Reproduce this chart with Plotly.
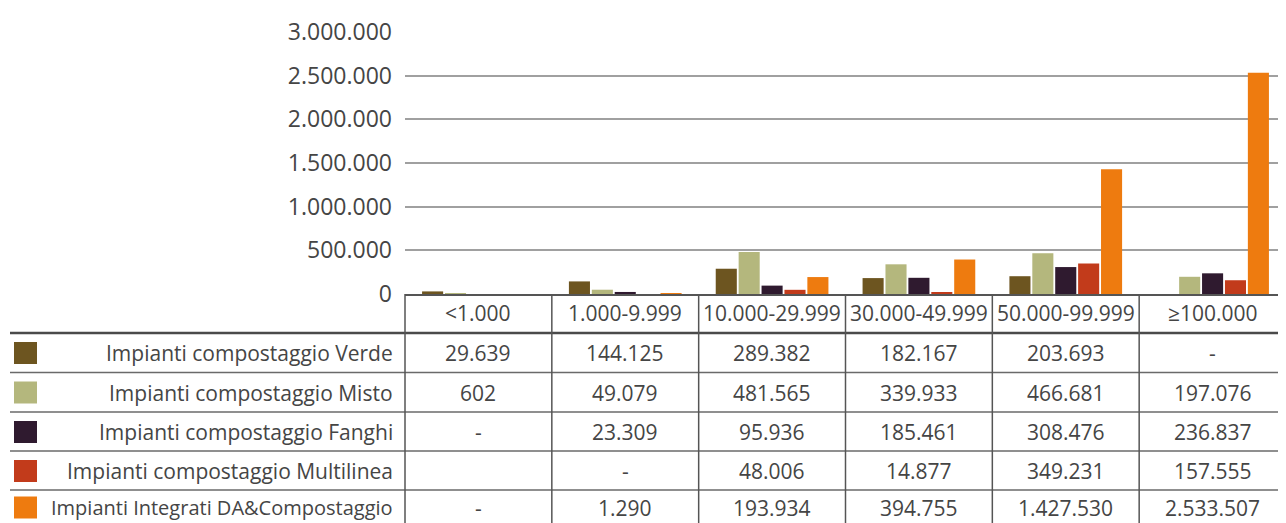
import plotly.graph_objects as go

# classi di capacità degli impianti
categorie = ['<1.000', '1.000-9.999', '10.000-29.999', '30.000-49.999', '50.000-99.999', '≥100.000']

# serie (None = dato assente)
verde = [29639, 144125, 289382, 182167, 203693, None]
misto = [602, 49079, 481565, 339933, 466681, 197076]
fanghi = [None, 23309, 95936, 185461, 308476, 236837]
multilinea = [None, None, 48006, 14877, 349231, 157555]
integrati = [None, 1290, 193934, 394755, 1427530, 2533507]

nomi = ['Impianti compostaggio Verde', 'Impianti compostaggio Misto', 'Impianti compostaggio Fanghi',
        'Impianti compostaggio Multilinea', 'Impianti Integrati DA&Compostaggio']
colori = ['#6d5520', '#b4b77d', '#2f1a2f', '#c23b1b', '#ee7b0f']
celle_vuote = [(3, 0)]  # (serie, categoria) lasciate in bianco nella tabella

serie = [verde, misto, fanghi, multilinea, integrati]

# la pagina ha un margine di 8px: coordinate espresse in pixel della figura
OFF = 8
W, H = 1286 - OFF, 523 - OFF
ML, MR, MT, MB = 405 - OFF, 0, 32 - OFF, 523 - 294
pw, ph = W - ML - MR, H - MT - MB
FONT = 'Open Sans'
GRIGIO = '#454545'


def py(pix):
    # pixel verticale (pagina) -> coordinata paper
    return (294 - pix) / ph


def px_(pix):
    return (pix - 405) / pw


def fmt(v):
    return '-' if v is None else f'{v:,}'.replace(',', '.')


fig = go.Figure()
for nome, col, vals in zip(nomi, colori, serie):
    fig.add_trace(go.Bar(x=categorie, y=[0 if v is None else v for v in vals], name=nome,
                         marker=dict(color=col, line=dict(width=0))))

shapes = []
annotations = []

# righe della tabella
linee_y = [333, 372.5, 412, 451, 490]
header_c = 313
righe_c = [353, 392.5, 432, 471, 507.5]
font_tab = dict(family=FONT, size=21, color=GRIGIO)

# intestazione
for c in categorie:
    annotations.append(dict(x=c, xref='x', y=py(header_c), yref='paper', text=c, showarrow=False,
                            yanchor='middle', font=font_tab))

for i, (nome, col, vals) in enumerate(zip(nomi, colori, serie)):
    yc = righe_c[i]
    f_lab = dict(font_tab, size=20) if len(nome) > 32 else font_tab
    annotations.append(dict(x=px_(395), xref='paper', y=py(yc), yref='paper', text=nome,
                            xanchor='right', yanchor='middle', showarrow=False, font=f_lab))
    shapes.append(dict(type='rect', xref='paper', yref='paper', x0=px_(14), x1=px_(37),
                       y0=py(yc + 11), y1=py(yc - 11), fillcolor=col, line=dict(width=0)))
    for j, c in enumerate(categorie):
        testo = '' if (i, j) in celle_vuote else fmt(vals[j])
        annotations.append(dict(x=c, xref='x', y=py(yc), yref='paper', text=testo, showarrow=False,
                                yanchor='middle', font=font_tab))

# linee orizzontali
shapes.append(dict(type='line', xref='paper', yref='paper', x0=px_(10), x1=1, y0=py(linee_y[0]),
                   y1=py(linee_y[0]), line=dict(color='#4a4a4a', width=2.5)))
for yl in linee_y[1:]:
    shapes.append(dict(type='line', xref='paper', yref='paper', x0=px_(10), x1=1, y0=py(yl), y1=py(yl),
                       line=dict(color='#6a6a6a', width=1.5)))

# linee verticali
shapes.append(dict(type='line', xref='paper', yref='paper', x0=0, x1=0, y0=0, y1=py(530),
                   line=dict(color='#555', width=1.5)))
for j in range(1, len(categorie)):
    shapes.append(dict(type='line', xref='x', yref='paper', x0=j - 0.5, x1=j - 0.5, y0=0, y1=py(530),
                       line=dict(color='#555', width=1.5)))

fig.update_layout(
    width=W, height=H,
    margin=dict(l=ML, r=MR, t=MT, b=MB),
    paper_bgcolor='white', plot_bgcolor='white',
    barmode='group', bargap=0.22, bargroupgap=0.08,
    showlegend=False,
    separators=',.',
    font=dict(family=FONT, color=GRIGIO),
    shapes=shapes,
    annotations=annotations,
)
fig.update_xaxes(showticklabels=False, showline=True, linecolor='#555', linewidth=1.5,
                 showgrid=False, ticks='', range=[-0.5, 5.5])
fig.update_yaxes(range=[0, 3000000], dtick=500000, tickformat=',d', showgrid=True,
                 gridcolor='#a0a0a0', gridwidth=1.5, zeroline=False, showline=False,
                 ticklabelstandoff=12, tickfont=dict(family=FONT, size=23, color=GRIGIO))

fig.write_html('out.html')
